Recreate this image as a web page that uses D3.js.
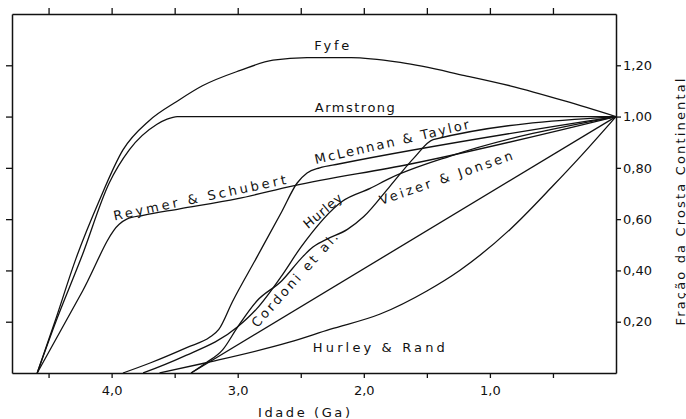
<!DOCTYPE html>
<html>

<head>
  <meta charset="utf-8">
  <title>Fração da Crosta Continental</title>
  <style>
    body { margin: 0; background: #fff; }
    text { font-family: "DejaVu Sans", sans-serif; fill: #111; }
  </style>
</head>

<body>
  <svg width="686" height="419"></svg>
  <script src="https://d3js.org/d3.v7.min.js"></script>
  <script>
    // pontos [idade (Ga), fração da crosta]
    var fyfe = [[4.59, 0], [4.45, 0.2], [4.28, 0.45], [4.10, 0.67], [3.91, 0.87], [3.70, 0.985], [3.48, 1.06],
      [3.28, 1.12], [2.98, 1.18], [2.72, 1.22], [2.45, 1.23], [2.1, 1.23], [1.7, 1.21], [1.2, 1.16],
      [0.84, 1.12], [0.4, 1.06], [0, 1.0]];
    var armstrong = [[4.59, 0], [4.45, 0.19], [4.24, 0.45], [4.02, 0.74], [3.86, 0.87], [3.64, 0.97],
      [3.56, 0.99], [3.48, 1.0], [0, 1.0]];
    var reymerSchubert = [[4.59, 0], [4.23, 0.32], [3.94, 0.58], [3.88, 0.60], [3.75, 0.615], [3.46, 0.64],
      [3.0, 0.68], [2.56, 0.73], [1.63, 0.815], [0, 1.0]];
    var mcLennanTaylor = [[3.91, 0], [3.69, 0.04], [3.4, 0.10], [3.22, 0.14], [3.15, 0.17], [3.04, 0.28],
      [2.85, 0.45], [2.65, 0.63], [2.53, 0.74], [2.45, 0.78], [2.35, 0.80], [2.2, 0.815], [0, 1.0]];
    var hurley = [[3.75, 0], [3.45, 0.06], [3.0, 0.18], [2.85, 0.25], [2.65, 0.38], [2.5, 0.49], [2.17, 0.67],
      [1.95, 0.72], [1.79, 0.76], [1.32, 0.845], [0, 1.0]];
    var cordoni = [[3.37, 0], [3.25, 0.04], [3.12, 0.09], [3.0, 0.18], [2.85, 0.28], [2.65, 0.36], [2.5, 0.445],
      [2.42, 0.485], [2.3, 0.52], [2.13, 0.56], [2.0, 0.61], [1.79, 0.73], [1.6, 0.84], [1.45, 0.91], [0, 1.0]];
    var veizerJansen = [[3.37, 0], [0, 1.0]];
    var hurleyRand = [[3.62, 0], [3.25, 0.04], [2.59, 0.12], [2.27, 0.17], [1.87, 0.23], [1.5, 0.32],
      [1.24, 0.40], [0.84, 0.56], [0.5, 0.73], [0.29, 0.84], [0, 1.0]];

    var curves = [fyfe, armstrong, reymerSchubert, mcLennanTaylor, hurley, cordoni, veizerJansen, hurleyRand];

    var xTicks = [4.5, 4.0, 3.5, 3.0, 2.5, 2.0, 1.5, 1.0, 0.5];
    var xTickLabels = [4.0, 3.0, 2.0, 1.0];
    var yTicks = [0.2, 0.4, 0.6, 0.8, 1.0, 1.2];

    var labelTexts = ["Fyfe", "Armstrong", "McLennan  &  Taylor", "Reymer  &  Schubert", "Hurley",
      "Veizer  &  Jonsen", "Cordoni  et  al.", "Hurley  &  Rand"];

    // posição dos rótulos (em unidades dos dados), rotação e largura
    var labelPlace = [
      { age: 2.254, v: 1.279, rot: 0, len: 35 },
      { age: 2.071, v: 1.034, rot: 0, len: 80 },
      { age: 1.778, v: 0.901, rot: -13, len: 158 },
      { age: 3.302, v: 0.683, rot: -12, len: 176 },
      { age: 2.325, v: 0.632, rot: -40, len: 46 },
      { age: 1.349, v: 0.761, rot: -19, len: 140 },
      { age: 2.548, v: 0.363, rot: -48, len: 122 },
      { age: 1.881, v: 0.101, rot: 0, len: 132 }
    ];

    var xScale = d3.scaleLinear().domain([4.79, 0]).range([12, 616]);
    var yScale = d3.scaleLinear().domain([0, 1.4]).range([373, 14]);

    var svg = d3.select("svg");

    var line = d3.line()
      .x(d => xScale(d[0]))
      .y(d => yScale(d[1]))
      .curve(d3.curveMonotoneX);

    curves.forEach(c => {
      svg.append("path")
        .attr("d", line(c))
        .attr("fill", "none")
        .attr("stroke", "#111")
        .attr("stroke-width", 1.3);
    });

    var comma = f => (d => d3.format(f)(d).replace(".", ","));

    function styleAxis(g) {
      g.attr("font-family", "DejaVu Sans").attr("font-size", 13);
      g.select(".domain").attr("stroke", "#111").attr("stroke-width", 1.5);
      g.selectAll(".tick line").attr("stroke", "#111").attr("stroke-width", 1.3);
      g.selectAll(".tick text").attr("fill", "#111");
    }

    svg.append("g")
      .attr("transform", "translate(0,373)")
      .call(d3.axisBottom(xScale).tickValues(xTicks).tickSize(5).tickSizeOuter(0).tickPadding(8)
        .tickFormat(d => xTickLabels.includes(d) ? comma(".1f")(d) : ""))
      .call(styleAxis);

    svg.append("g")
      .attr("transform", "translate(0,14)")
      .call(d3.axisTop(xScale).tickValues(xTicks).tickSize(6).tickSizeOuter(0).tickFormat(""))
      .call(styleAxis);

    svg.append("g")
      .attr("transform", "translate(12,0)")
      .call(d3.axisLeft(yScale).tickValues(yTicks).tickSize(6).tickSizeOuter(0).tickFormat(""))
      .call(styleAxis);

    svg.append("g")
      .attr("transform", "translate(616,0)")
      .call(d3.axisRight(yScale).tickValues(yTicks).tickSize(5).tickSizeOuter(0).tickPadding(2)
        .tickFormat(comma(".2f")))
      .call(styleAxis);

    labelTexts.forEach((t, i) => {
      var p = labelPlace[i];
      svg.append("text")
        .attr("transform", "translate(" + xScale(p.age) + "," + yScale(p.v) + ") rotate(" + p.rot + ")")
        .attr("text-anchor", "middle")
        .attr("dominant-baseline", "central")
        .attr("font-size", 13)
        .attr("textLength", p.len)
        .attr("lengthAdjust", "spacing")
        .text(t);
    });

    svg.append("text")
      .attr("x", 304)
      .attr("y", 412)
      .attr("text-anchor", "middle")
      .attr("dominant-baseline", "central")
      .attr("font-size", 13)
      .attr("textLength", 92)
      .attr("lengthAdjust", "spacing")
      .text("Idade (Ga)");

    svg.append("text")
      .attr("transform", "translate(680,202) rotate(-90)")
      .attr("text-anchor", "middle")
      .attr("dominant-baseline", "central")
      .attr("font-size", 13)
      .attr("textLength", 247)
      .attr("lengthAdjust", "spacing")
      .text("Fração da Crosta Continental");
  </script>
</body>

</html>
